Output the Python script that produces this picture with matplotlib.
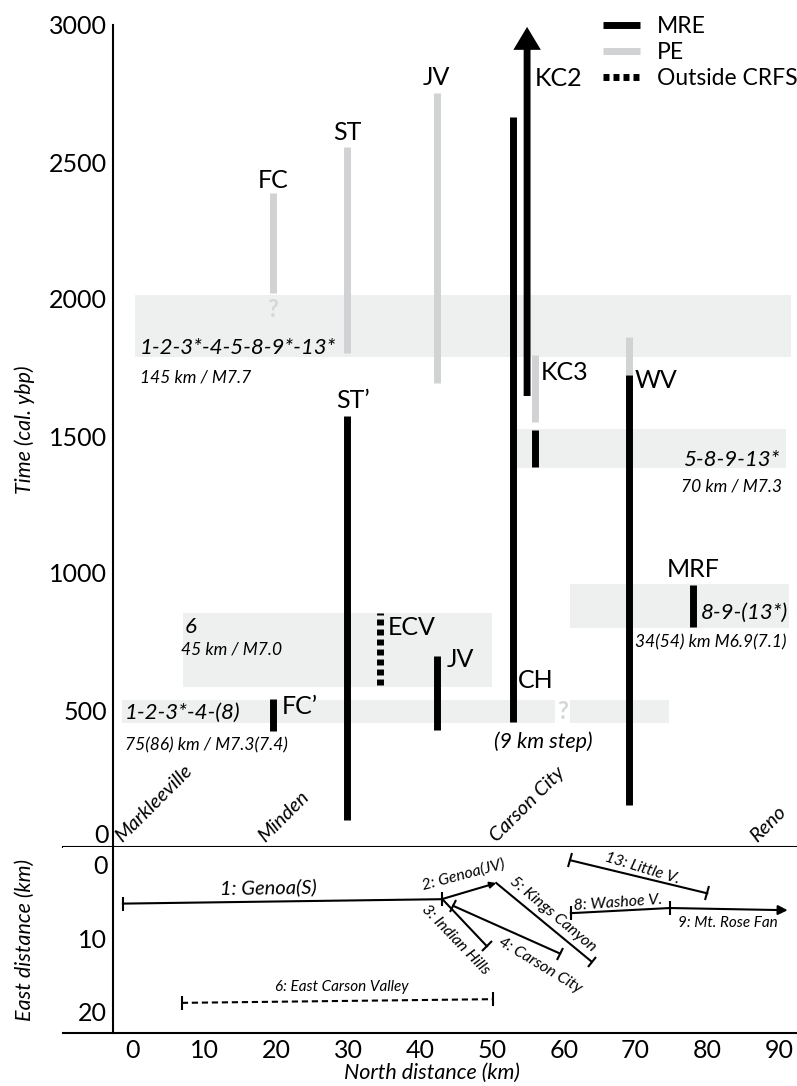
import matplotlib
matplotlib.use("Agg")
import matplotlib.pyplot as plt
import numpy as np
from matplotlib.lines import Line2D
from matplotlib.markers import MarkerStyle
from matplotlib.transforms import Affine2D

plt.rcParams['font.family'] = ['Lato', 'DejaVu Sans']

# ---- top panel: rupture ages at each site (north distance km, cal. ybp) ----
mre_site = ["ST'", "CH", "KC2", "KC3", "WV", "MRF", "JV", "FC'"]
mre_x = [29.8, 52.9, 54.9, 56.0, 69.1, 78.0, 42.3, 19.5]
mre_young = [98, 456, 1646, 1387, 153, 803, 427, 423]
mre_old = [1573, 2665, 2993, 1522, 1723, 956, 697, 540]
open_ended = "KC2"

pe_site = ["FC", "ST", "JV", "KC3", "WV"]
pe_x = [19.5, 29.8, 42.3, 56.0, 69.1]
pe_young = [2022, 1803, 1693, 1551, 1723]
pe_old = [2387, 2555, 2752, 1796, 1861]

out_site = ["ECV"]
out_x = [34.4]
out_young = [591]
out_old = [854]

# rupture scenarios: along-strike extent and time window
band_xranges = [[(0.3, 91.6)], [(53.5, 91.0)], [(60.9, 91.4)], [(7.0, 50.0)],
                [(-1.5, 58.8), (60.9, 74.7)]]
band_t = [(1788, 2015), (1383, 1525), (800, 960), (584, 854), (453, 536)]
band_faults = ["1-2-3*-4-5-8-9*-13*", "5-8-9-13*", "8-9-(13*)", "6", "1-2-3*-4-(8)"]
band_mag = ["145 km / M7.7", "70 km / M7.3", "34(54) km M6.9(7.1)",
            "45 km / M7.0", "75(86) km / M7.3(7.4)"]

town_names = ["Markleeville", "Minden", "Carson City", "Reno"]
town_x = [-1.5, 18.4, 50.7, 86.9]

# ---- bottom panel: fault traces (north km, east km) ----
fault_id = ["1", "2", "3", "4", "5", "6", "8", "9", "13"]
fault_name = ["1: Genoa(S)", "2: Genoa(JV)", "3: Indian Hills", "4: Carson City",
              "5: Kings Canyon", "6: East Carson Valley", "8: Washoe V.",
              "9: Mt. Rose Fan", "13: Little V."]
fault_x0 = [-1.4, 43.0, 43.2, 44.6, 50.6, 6.8, 61.0, 74.8, 60.9]
fault_y0 = [5.3, 4.7, 4.8, 5.6, 2.5, 18.8, 6.6, 5.9, -0.6]
fault_x1 = [43.0, 50.6, 49.3, 59.5, 63.9, 50.1, 74.8, 91.2, 80.0]
fault_y1 = [4.7, 2.5, 11.1, 12.1, 13.2, 18.3, 5.9, 6.2, 3.9]

PE_GRAY = '#d1d2d4'
BAND = '#eeefef'
SPINE_X = -2.8

fig = plt.figure(figsize=(7.97, 10.86), dpi=100)
ax = fig.add_axes([63/797, 1-847/1086, 734/797, 822/1086])
ax2 = fig.add_axes([63/797, 1-1033/1086, 734/797, 186/1086])

for a in (ax, ax2):
    a.set_xlim(-9.75, 92.5)
    a.spines['top'].set_visible(False)
    a.spines['right'].set_visible(False)
    a.spines['left'].set_position(('data', SPINE_X))
    a.spines['left'].set_linewidth(1.5)
    a.spines['bottom'].set_linewidth(1.5)
    a.tick_params(length=0, labelsize=18, pad=4)

ax.set_ylim(0, 3000)
ax.set_xticks([])
ax.set_yticks([500, 1000, 1500, 2000, 2500, 3000])
ax.annotate('0', xy=(SPINE_X, 0), xytext=(-3, 3), textcoords='offset points',
            ha='right', va='baseline', fontsize=18)

# scenario bands
for xr, (t0, t1) in zip(band_xranges, band_t):
    ax.broken_barh([(a0, a1 - a0) for a0, a1 in xr], (t0, t1 - t0),
                   facecolors=BAND, edgecolor='none', zorder=0.5)

ax.vlines(pe_x, pe_young, pe_old, colors=PE_GRAY, linewidth=5, capstyle='butt', zorder=2)
for s, x, y0, y1 in zip(mre_site, mre_x, mre_young, mre_old):
    if s == open_ended:
        ax.annotate('', xy=(x, y1), xytext=(x, y0), annotation_clip=False,
                    arrowprops=dict(arrowstyle='simple,head_length=1.0,head_width=1.2,tail_width=0.3',
                                    mutation_scale=16.5, fc='black', ec='none',
                                    shrinkA=0, shrinkB=0), zorder=3)
    else:
        ax.vlines(x, y0, y1, colors='black', linewidth=5, capstyle='butt', zorder=3)
ax.vlines(out_x, out_young, out_old, colors='black', linewidth=5,
          linestyles=[(0, (0.86, 0.58))], zorder=3)

# site labels
lab = dict(fontsize=18, va='center', zorder=4)
ax.text(19.5, 2434, 'FC', ha='center', **lab)
ax.text(29.8, 2609, 'ST', ha='center', **lab)
ax.text(42.3, 2810, 'JV', ha='center', **lab)
ax.text(56.0, 2806, 'KC2', ha='left', **lab)
ax.text(56.8, 1730, 'KC3', ha='left', **lab)
ax.text(69.9, 1704, 'WV', ha='left', **lab)
ax.text(30.6, 1631, 'ST\u2019', ha='center', **lab)
ax.text(78.0, 1011, 'MRF', ha='center', **lab)
ax.text(35.5, 800, 'ECV', ha='left', **lab)
ax.text(43.7, 685, 'JV', ha='left', **lab)
ax.text(53.6, 609, 'CH', ha='left', **lab)
ax.text(20.7, 511, 'FC\u2019', ha='left', **lab)

q = dict(fontsize=17, fontweight='bold', color='#d6d7d8', ha='center', va='center', zorder=4)
ax.text(19.5, 1960, '?', **q)
ax.text(59.8, 493, '?', **q)

# scenario labels
big = dict(fontsize=16, style='italic', va='center', zorder=4)
small = dict(fontsize=12.5, style='italic', va='center', zorder=4)
ax.text(1.0, 1821, band_faults[0], ha='left', **big)
ax.text(1.0, 1715, band_mag[0], ha='left', **small)
ax.text(90.1, 1412, band_faults[1], ha='right', **big)
ax.text(90.4, 1314, band_mag[1], ha='right', **small)
ax.text(79.1, 854, band_faults[2], ha='left', **big)
ax.text(69.9, 745, band_mag[2], ha='left', **small)
ax.text(7.2, 803, band_faults[3], ha='left', **big)
ax.text(6.7, 719, band_mag[3], ha='left', **small)
ax.text(-1.1, 489, band_faults[4], ha='left', **big)
ax.text(-1.1, 369, band_mag[4], ha='left', **small)
ax.text(57.1, 383, '(9 km step)', ha='center', fontsize=15.5, style='italic', va='center')

for name, x in zip(town_names, town_x):
    ax.text(x, 15, name, rotation=45, rotation_mode='anchor', ha='left',
            va='baseline', fontsize=14.5, style='italic')

handles = [Line2D([], [], color='black', lw=5, solid_capstyle='butt'),
           Line2D([], [], color=PE_GRAY, lw=5, solid_capstyle='butt'),
           Line2D([], [], color='black', lw=5, linestyle=(0, (0.86, 0.58)), dash_capstyle='butt')]
ax.legend(handles, ['MRE', 'PE', 'Outside CRFS'], loc='upper left',
          bbox_to_anchor=(603/797, 1-16/1086), bbox_transform=fig.transFigure,
          frameon=False, fontsize=16.5, handlelength=1.6, handletextpad=0.75,
          labelspacing=0.22, borderpad=0, borderaxespad=0)

# ---- bottom panel ----
ax2.set_ylim(22.9, -2.4)
ax2.set_yticks([0, 10, 20])
ax2.set_xticks(range(0, 91, 10))


def end_tick(x, y, xo, yo):
    p = ax2.transData.transform([(xo, yo), (x, y)])
    ang = np.degrees(np.arctan2(p[1, 1] - p[0, 1], p[1, 0] - p[0, 0]))
    m = MarkerStyle('|', transform=Affine2D().rotate_deg(ang))
    ax2.plot(x, y, marker=m, ms=10, mew=1.5, color='black', linestyle='none')


arrows = {"2": 9, "9": 14}
start_ticks = {"1", "4", "6", "8", "13"}
end_ticks = {"1", "3", "4", "5", "6", "8", "13"}
for fid, x0, y0, x1, y1 in zip(fault_id, fault_x0, fault_y0, fault_x1, fault_y1):
    if fid in arrows:
        ax2.annotate('', xy=(x1, y1), xytext=(x0, y0),
                     arrowprops=dict(arrowstyle='-|>', lw=1.5, color='black',
                                     mutation_scale=arrows[fid], shrinkA=0, shrinkB=0))
    else:
        ls = (0, (3, 1.8)) if fid == "6" else '-'
        ax2.plot([x0, x1], [y0, y1], color='black', lw=1.5, linestyle=ls)
    if fid in start_ticks:
        end_tick(x0, y0, x1, y1)
    if fid in end_ticks:
        end_tick(x1, y1, x0, y0)

flab = dict(style='italic', ha='center', va='center')
ax2.text(18.8, 3.1, fault_name[0], rotation=0.7, fontsize=14.5, **flab)
ax2.text(46.0, 1.4, fault_name[1], rotation=15, fontsize=11.5, **flab)
ax2.text(44.9, 10.3, fault_name[2], rotation=-46, fontsize=11.5, **flab)
ax2.text(56.7, 13.7, fault_name[3], rotation=-31, fontsize=11.5, **flab)
ax2.text(58.5, 6.8, fault_name[4], rotation=-40, fontsize=11.5, **flab)
ax2.text(29.1, 16.7, fault_name[5], rotation=0, fontsize=11, **flab)
ax2.text(67.6, 5.2, fault_name[6], rotation=4, fontsize=11.5, **flab)
ax2.text(82.9, 7.9, fault_name[7], rotation=0, fontsize=11, **flab)
ax2.text(70.9, 0.5, fault_name[8], rotation=-17, fontsize=11.5, **flab)

fig.text(25/797, 1-430/1086, 'Time (cal. ybp)', rotation=90, ha='center', va='center',
         fontsize=15.5, style='italic')
fig.text(25/797, 1-940/1086, 'East distance (km)', rotation=90, ha='center', va='center',
         fontsize=15.5, style='italic')
fig.text(432/797, 1-1073/1086, 'North distance (km)', ha='center', va='center',
         fontsize=15.5, style='italic')

fig.savefig('out.png', dpi=100)
